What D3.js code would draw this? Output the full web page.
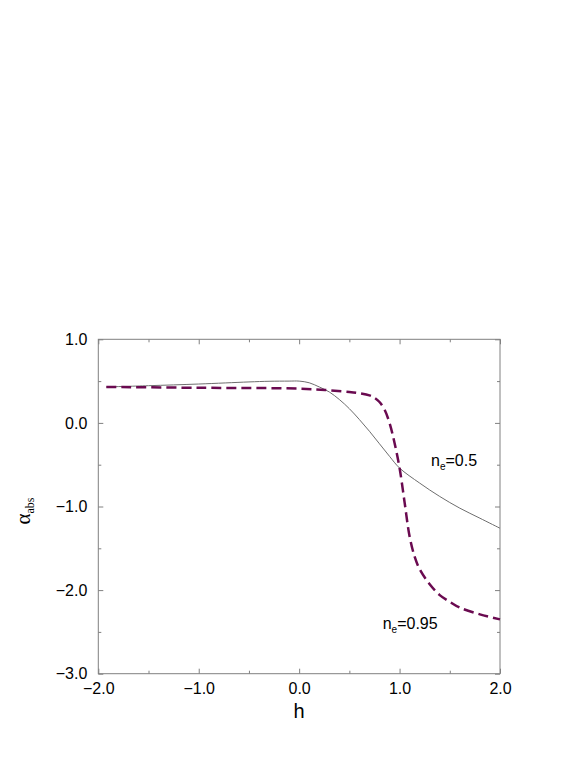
<!DOCTYPE html>
<html>
<head>
<meta charset="utf-8">
<script src="https://cdn.jsdelivr.net/npm/d3@7"></script>
<style>
	body { margin: 0; background: #fff; }
	svg { display: block; }
</style>
</head>
<body>
<script>
// n_e = 0.5 (thin solid)
var hSolid = [-1.92, -1.5, -1.0, -0.5, -0.3, -0.1, 0.0, 0.1, 0.2, 0.3, 0.4, 0.5, 0.6, 0.7, 0.8, 0.9, 1.0, 1.2, 1.4, 1.6, 1.8, 2.0];
var alphaSolid = [0.43, 0.445, 0.465, 0.49, 0.498, 0.50, 0.50, 0.48, 0.43, 0.37, 0.28, 0.17, 0.04, -0.10, -0.25, -0.40, -0.54, -0.72, -0.88, -1.02, -1.14, -1.26];

// n_e = 0.95 (thick dashed)
var hDashed = [-1.92, -1.0, 0.0, 0.3, 0.5, 0.6, 0.7, 0.75, 0.8, 0.85, 0.9, 0.95, 1.0, 1.05, 1.1, 1.15, 1.2, 1.3, 1.4, 1.5, 1.6, 1.8, 2.0];
var alphaDashed = [0.43, 0.42, 0.41, 0.39, 0.37, 0.355, 0.33, 0.30, 0.25, 0.16, 0.0, -0.24, -0.54, -0.95, -1.36, -1.60, -1.75, -1.93, -2.06, -2.14, -2.21, -2.29, -2.35];

var xMajor = [-2, -1, 0, 1, 2];
var xMinor = [-1.5, -0.5, 0.5, 1.5];
var yMajor = [1, 0, -1, -2, -3];
var yMinor = [0.5, -0.5, -1.5, -2.5];

var width = 586, height = 758;
var plotLeft = 98.3, plotRight = 500, plotTop = 339.3, plotBottom = 673.7;

var svg = d3.select("body").append("svg")
	.attr("width", width)
	.attr("height", height);

var x = d3.scaleLinear().domain([-2, 2]).range([plotLeft, plotRight]);
var y = d3.scaleLinear().domain([-3, 1]).range([plotBottom, plotTop]);

var fmt = function(d) { return d3.format(".1f")(d).replace("-", "\u2212"); };
var axisColor = "#808080";

function styleAxis(g, labels) {
	g.select(".domain").remove();
	g.selectAll(".tick line").attr("stroke", axisColor);
	g.selectAll(".tick text")
		.attr("fill", "#000")
		.style("font-family", "'Liberation Sans', Arial, sans-serif")
		.style("font-size", "16px");
	if (!labels) g.selectAll(".tick text").remove();
}

// frame
svg.append("rect")
	.attr("x", plotLeft).attr("y", plotTop)
	.attr("width", plotRight - plotLeft).attr("height", plotBottom - plotTop)
	.attr("fill", "none")
	.attr("stroke", axisColor)
	.attr("stroke-width", 1);

// bottom / top
svg.append("g").attr("transform", "translate(0," + plotBottom + ")")
	.call(d3.axisBottom(x).tickValues(xMajor).tickSize(-5).tickPadding(9).tickFormat(fmt))
	.call(styleAxis, true);
svg.append("g").attr("transform", "translate(0," + plotBottom + ")")
	.call(d3.axisBottom(x).tickValues(xMinor).tickSize(-3))
	.call(styleAxis, false);
svg.append("g").attr("transform", "translate(0," + plotTop + ")")
	.call(d3.axisTop(x).tickValues(xMajor).tickSize(-5))
	.call(styleAxis, false);
svg.append("g").attr("transform", "translate(0," + plotTop + ")")
	.call(d3.axisTop(x).tickValues(xMinor).tickSize(-3))
	.call(styleAxis, false);

// left / right
svg.append("g").attr("transform", "translate(" + plotLeft + ",0)")
	.call(d3.axisLeft(y).tickValues(yMajor).tickSize(-5).tickPadding(11).tickFormat(fmt))
	.call(styleAxis, true);
svg.append("g").attr("transform", "translate(" + plotLeft + ",0)")
	.call(d3.axisLeft(y).tickValues(yMinor).tickSize(-3))
	.call(styleAxis, false);
svg.append("g").attr("transform", "translate(" + plotRight + ",0)")
	.call(d3.axisRight(y).tickValues(yMajor).tickSize(-5))
	.call(styleAxis, false);
svg.append("g").attr("transform", "translate(" + plotRight + ",0)")
	.call(d3.axisRight(y).tickValues(yMinor).tickSize(-3))
	.call(styleAxis, false);

// curves
var line = d3.line()
	.x(function(d) { return x(d[0]); })
	.y(function(d) { return y(d[1]); })
	.curve(d3.curveCatmullRom.alpha(0.5));

svg.append("path")
	.datum(d3.zip(hSolid, alphaSolid))
	.attr("d", line)
	.attr("fill", "none")
	.attr("stroke", "#6e6e6e")
	.attr("stroke-width", 1);

svg.append("path")
	.datum(d3.zip(hDashed, alphaDashed))
	.attr("d", line)
	.attr("fill", "none")
	.attr("stroke", "#6a0a50")
	.attr("stroke-width", 2.5)
	.attr("stroke-dasharray", "10,5");

// axis titles
svg.append("text")
	.attr("x", (plotLeft + plotRight) / 2)
	.attr("y", 718)
	.attr("text-anchor", "middle")
	.style("font-family", "'Liberation Sans', Arial, sans-serif")
	.style("font-size", "20px")
	.text("h");

var yl = svg.append("text")
	.attr("transform", "translate(30,511) rotate(-90)")
	.attr("text-anchor", "middle")
	.style("font-family", "'Liberation Serif', 'DejaVu Serif', serif")
	.style("font-size", "21px");
yl.append("tspan").text("\u03b1");
yl.append("tspan").attr("dy", 4).style("font-size", "12px").text("abs");

// curve labels
function label(px, py, val) {
	var t = svg.append("text")
		.attr("x", px).attr("y", py)
		.style("font-family", "'Liberation Sans', Arial, sans-serif")
		.style("font-size", "16px");
	t.append("tspan").text("n");
	t.append("tspan").attr("dy", 4).style("font-size", "10px").text("e");
	t.append("tspan").attr("dy", -4).text("=" + val);
}
label(431, 466, "0.5");
label(382.7, 629.3, "0.95");
</script>
</body>
</html>
